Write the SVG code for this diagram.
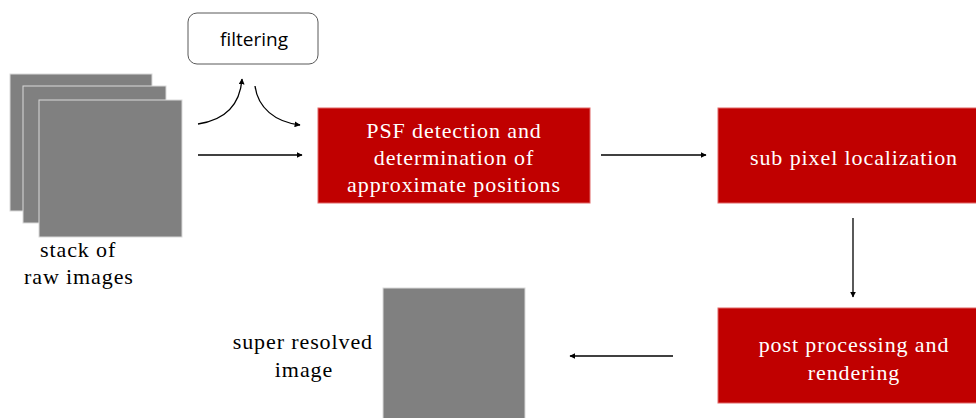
<svg xmlns="http://www.w3.org/2000/svg" width="976" height="418" viewBox="0 0 976 418">
  <style>
    .img { fill: #808080; stroke: #d9d9d9; stroke-width: 1; }
    .step { fill: #c00000; stroke: #e06666; stroke-width: 1; }
    .serif { font-family: "Liberation Serif", "Times New Roman", serif; font-size: 22px; letter-spacing: 0.9px; }
    .stepText { fill: #ffffff; text-anchor: middle; }
    .label { fill: #000000; }
    .filter { fill: #ffffff; stroke: #595959; stroke-width: 1; }
    .filterText { font-family: "Open Sans", "Liberation Sans", sans-serif; font-size: 19px; fill: #000000; text-anchor: middle; }
    .conn { fill: none; stroke: #000000; stroke-width: 1.3; marker-end: url(#head); }
  </style>
  <defs>
    <marker id="head" viewBox="0 0 10 10" refX="9" refY="5" markerWidth="6" markerHeight="6" orient="auto" markerUnits="userSpaceOnUse">
      <path d="M0,0 L10,5 L0,10 z" fill="#000000"/>
    </marker>
  </defs>

  <!-- input image stack -->
  <g id="raw-stack">
    <rect class="img" x="10" y="74" width="142" height="137"/>
    <rect class="img" x="23" y="86" width="143" height="137"/>
    <rect class="img" x="39" y="100" width="143" height="137"/>
    <text class="serif label" x="40" y="257">stack of</text>
    <text class="serif label" x="24" y="284">raw images</text>
  </g>

  <g id="filtering">
    <rect class="filter" x="188" y="13" width="130" height="51" rx="9" ry="9"/>
    <text class="filterText" x="254" y="46">filtering</text>
  </g>

  <g id="psf-detection">
    <rect class="step" x="318" y="108" width="272" height="95"/>
    <text class="serif stepText" x="454" y="138">PSF detection and</text>
    <text class="serif stepText" x="454" y="165">determination of</text>
    <text class="serif stepText" x="454" y="192">approximate positions</text>
  </g>

  <g id="sub-pixel">
    <rect class="step" x="718" y="108" width="262" height="95"/>
    <text class="serif stepText" x="854" y="165">sub pixel localization</text>
  </g>

  <g id="post-processing">
    <rect class="step" x="718" y="308" width="262" height="95"/>
    <text class="serif stepText" x="854" y="352">post processing and</text>
    <text class="serif stepText" x="854" y="380">rendering</text>
  </g>

  <g id="super-resolved">
    <rect class="img" x="383" y="288" width="142" height="135"/>
    <text class="serif label" x="373" y="349" text-anchor="end">super resolved</text>
    <text class="serif label" x="304" y="377" text-anchor="middle">image</text>
  </g>

  <g id="connectors">
    <path class="conn" d="M198,124 C225,120 240,105 242,79"/>
    <path class="conn" d="M255,86 C258,108 275,122 300,125"/>
    <path class="conn" d="M198,155 L302,155"/>
    <path class="conn" d="M601,155 L706,155"/>
    <path class="conn" d="M853,218 L853,297"/>
    <path class="conn" d="M673,356 L570,356"/>
  </g>
</svg>
